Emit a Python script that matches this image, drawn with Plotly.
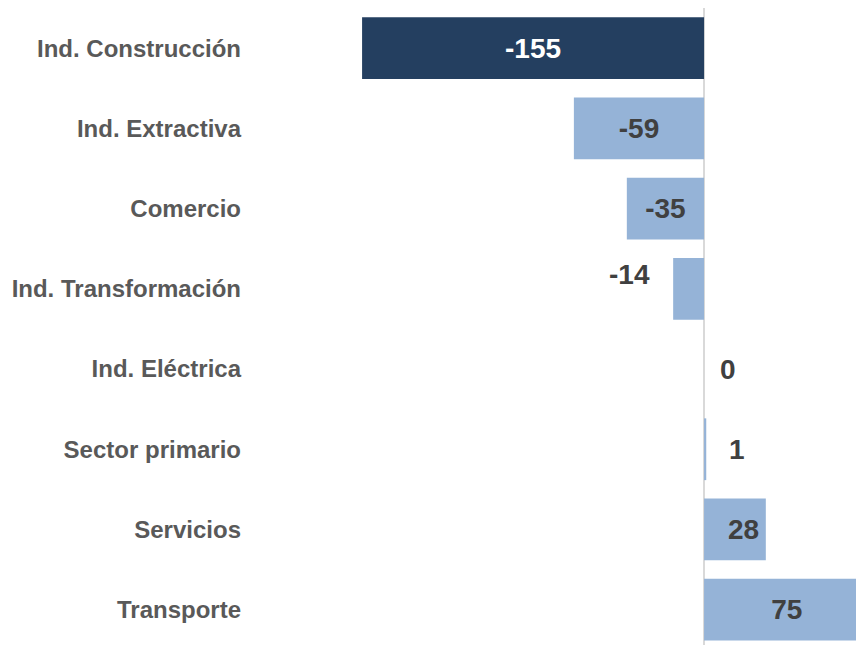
import plotly.graph_objects as go

categorias = ['Ind. Construcción', 'Ind. Extractiva', 'Comercio', 'Ind. Transformación',
              'Ind. Eléctrica', 'Sector primario', 'Servicios', 'Transporte']
valores = [-155, -59, -35, -14, 0, 1, 28, 75]

OSCURO = '#243F60'
CLARO = '#95B3D7'
GRIS_TXT = '#595959'
GRIS_NUM = '#404040'
FUENTE = 'Liberation Sans, Arial, sans-serif'
TAM_NUM = 28

colores = [OSCURO] + [CLARO] * (len(valores) - 1)
color_txt = ['white'] + [GRIS_NUM] * (len(valores) - 1)
# etiquetas centradas dentro de la barra, salvo las que van como anotación
fuera = {-14: (-44, 14), 0: (24, 0), 1: (31, 0), 28: (-22, 0)}
pos_txt = ['none' if v in fuera else 'inside' for v in valores]

fig = go.Figure(go.Bar(
    y=categorias, x=valores, orientation='h',
    marker=dict(color=colores, line=dict(width=0)),
    text=[str(v) for v in valores],
    textposition=pos_txt,
    insidetextanchor='middle',
    textfont=dict(family=FUENTE, size=TAM_NUM, color=color_txt, weight='bold'),
    constraintext='none',
    cliponaxis=True,
))

for cat, v in zip(categorias, valores):
    if v in fuera:
        dx, dy = fuera[v]
        fig.add_annotation(x=v, y=cat, text=f'<b>{v}</b>', showarrow=False,
                           xshift=dx, yshift=dy,
                           font=dict(family=FUENTE, size=TAM_NUM, color=GRIS_NUM))

fig.update_layout(
    width=856, height=637,
    margin=dict(l=242, r=0, t=0, b=0),
    plot_bgcolor='white', paper_bgcolor='white',
    bargap=0.23,
    showlegend=False,
)
fig.update_xaxes(range=[-205.8, 72.5], showgrid=False, showticklabels=False,
                 zeroline=True, zerolinecolor='#d9d9d9', zerolinewidth=2)
fig.update_yaxes(categoryorder='array', categoryarray=categorias,
                 range=[7.44, -0.5], showgrid=False, ticks='',
                 ticklabelstandoff=8,
                 tickfont=dict(family=FUENTE, size=24, color=GRIS_TXT, weight='bold'))

fig.write_html('out.html')
